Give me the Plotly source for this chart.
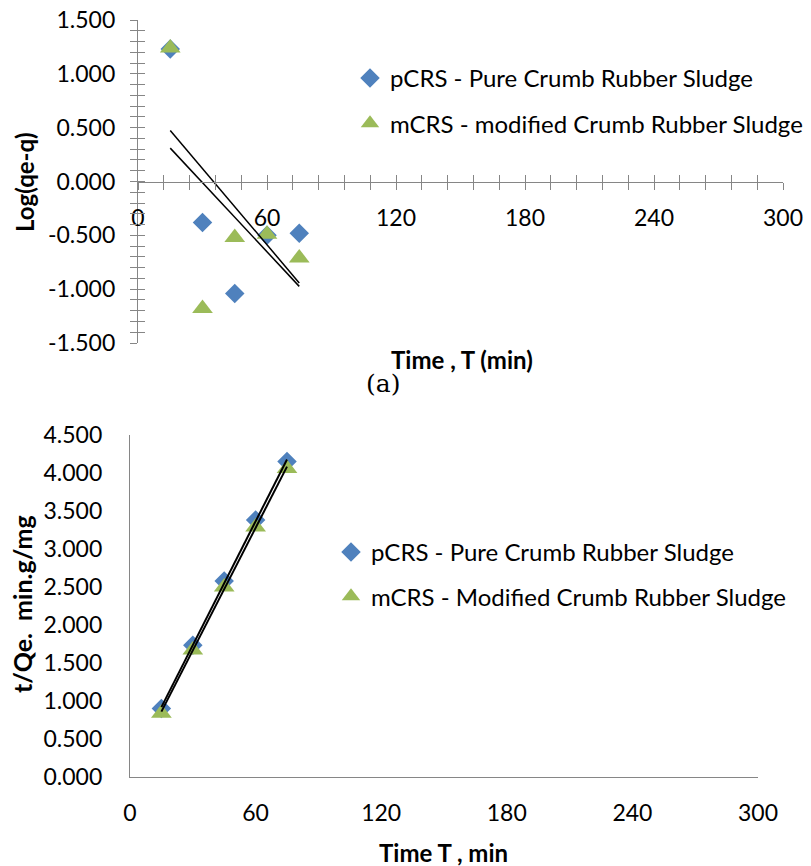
import numpy as np
import plotly.graph_objects as go

# ---------------- data ----------------
time_min = [15, 30, 45, 60, 75]

# (a) pseudo-first-order: Log(qe-q)
log_pcrs = [1.23, -0.38, -1.04, -0.50, -0.48]
log_mcrs = [1.24, -1.18, -0.52, -0.49, -0.71]

# (b) pseudo-second-order: t/Qe
tq_pcrs = [0.90, 1.735, 2.58, 3.38, 4.15]
tq_mcrs = [0.84, 1.67, 2.50, 3.29, 4.06]

names_top = ["pCRS - Pure Crumb Rubber Sludge", "mCRS - modified Crumb Rubber Sludge"]
names_bot = ["pCRS - Pure Crumb Rubber Sludge", "mCRS - Modified Crumb Rubber Sludge"]

x_ticks = [0, 60, 120, 180, 240, 300]
y_ticks_top = [-1.5, -1.0, -0.5, 0.0, 0.5, 1.0, 1.5]
y_ticks_bot = [0.0, 0.5, 1.0, 1.5, 2.0, 2.5, 3.0, 3.5, 4.0, 4.5]
y_text_top = ["-1.500", "-1.000", "-0.500", "0.000", "0.500", "1.000", "1.500"]
y_text_bot = ["0.000", "0.500", "1.000", "1.500", "2.000", "2.500", "3.000", "3.500", "4.000", "4.500"]

W, H = 811, 866
BLUE = "#4F81BD"
GREEN = "#9BBB59"
GRAY = "#868686"
FONT = "Lato"


def px_x(p):
    return p / W


def px_y(p):
    return 1 - p / H


def trend(x, y):
    k, b = np.polyfit(x, y, 1)
    xs = [min(x), max(x)]
    return xs, [k * v + b for v in xs]


fig = go.Figure()

# ---------- top chart ----------
for vals, name, color, sym, size, grp in [
    (log_pcrs, names_top[0], BLUE, "diamond", 15, "a"),
    (log_mcrs, names_top[1], GREEN, "triangle-up", 18, "b"),
]:
    fig.add_trace(go.Scatter(
        x=time_min, y=vals, mode="markers", name=name,
        marker=dict(symbol=sym, size=size, color=color, line=dict(width=0)),
        xaxis="x", yaxis="y", legend="legend", legendgroup=grp,
    ))
for vals in (log_pcrs, log_mcrs):
    tx, ty = trend(time_min, vals)
    fig.add_trace(go.Scatter(
        x=tx, y=ty, mode="lines", line=dict(color="black", width=1.5),
        showlegend=False, xaxis="x", yaxis="y", hoverinfo="skip",
    ))
# invisible trace to carry the overlay (tick-crossing) axes
fig.add_trace(go.Scatter(x=[None], y=[None], xaxis="x3", yaxis="y3",
                         showlegend=False, hoverinfo="skip"))

# ---------- bottom chart ----------
for vals, name, color, sym, size, grp in [
    (tq_pcrs, names_bot[0], BLUE, "diamond", 15, "c"),
    (tq_mcrs, names_bot[1], GREEN, "triangle-up", 18, "d"),
]:
    fig.add_trace(go.Scatter(
        x=time_min, y=vals, mode="markers", name=name,
        marker=dict(symbol=sym, size=size, color=color, line=dict(width=0)),
        xaxis="x2", yaxis="y2", legend="legend2", legendgroup=grp,
    ))
for vals in (tq_pcrs, tq_mcrs):
    tx, ty = trend(time_min, vals)
    fig.add_trace(go.Scatter(
        x=tx, y=ty, mode="lines", line=dict(color="black", width=2),
        showlegend=False, xaxis="x2", yaxis="y2", hoverinfo="skip",
    ))

# ---------- geometry ----------
top_xdom = [px_x(138), px_x(783)]
top_ydom = [px_y(343), px_y(20)]
top_yrange = [-1.5, 1.5]
zero_pos = top_ydom[0] + (top_ydom[1] - top_ydom[0]) * (0 - top_yrange[0]) / (top_yrange[1] - top_yrange[0])

bot_xdom = [px_x(130), px_x(758)]
bot_ydom = [px_y(777), px_y(435)]

tickfont = dict(family=FONT, size=23, color="black")
legfont = dict(family=FONT, size=24, color="black")
titlefont = dict(family=FONT, size=24, color="black")

common_x = dict(range=[0, 300], tickvals=x_ticks, showgrid=False, zeroline=False,
                tickfont=tickfont, linecolor=GRAY, linewidth=1.3, fixedrange=True,
                automargin=False)


def ann(text, x, y, font, angle=0):
    return dict(text=text, x=px_x(x), y=px_y(y), xref="paper", yref="paper",
                xanchor="center", yanchor="middle", textangle=angle,
                showarrow=False, font=font)


fig.update_layout(
    width=W, height=H,
    margin=dict(l=0, r=0, t=0, b=0, autoexpand=False),
    paper_bgcolor="white", plot_bgcolor="rgba(0,0,0,0)",
    showlegend=True,
    xaxis=dict(
        **common_x, domain=top_xdom, anchor="free", position=zero_pos,
        showline=True, ticks="outside", ticklen=7, tickcolor=GRAY, tickwidth=1.3,
        minor=dict(ticks="outside", tick0=0, dtick=12, ticklen=7, tickcolor=GRAY, tickwidth=1.3),
        ticklabelstandoff=9,
    ),
    xaxis3=dict(
        range=[0, 300], domain=top_xdom, overlaying="x", anchor="free", position=zero_pos,
        showgrid=False, zeroline=False, showline=False, showticklabels=False,
        tickvals=x_ticks, ticks="inside", ticklen=7, tickcolor=GRAY, tickwidth=1.3,
        minor=dict(ticks="inside", tick0=0, dtick=12, ticklen=7, tickcolor=GRAY, tickwidth=1.3),
        automargin=False,
    ),
    yaxis=dict(
        range=top_yrange, domain=top_ydom, anchor="x",
        tickvals=y_ticks_top, ticktext=y_text_top,
        showgrid=False, zeroline=False, showline=True,
        linecolor=GRAY, linewidth=1.3, tickfont=tickfont,
        ticks="outside", ticklen=7, tickcolor=GRAY, tickwidth=1.3,
        minor=dict(ticks="outside", tick0=0, dtick=0.1, ticklen=7, tickcolor=GRAY, tickwidth=1.3),
        ticklabelstandoff=10, fixedrange=True, automargin=False,
    ),
    yaxis3=dict(
        range=top_yrange, domain=top_ydom, overlaying="y", anchor="x3", side="left",
        tickvals=y_ticks_top, showgrid=False, zeroline=False, showline=False,
        showticklabels=False, ticks="inside", ticklen=7, tickcolor=GRAY, tickwidth=1.3,
        minor=dict(ticks="inside", tick0=0, dtick=0.1, ticklen=7, tickcolor=GRAY, tickwidth=1.3),
        automargin=False,
    ),
    xaxis2=dict(
        **common_x, domain=bot_xdom, anchor="y2", showline=True, ticks="",
        ticklabelstandoff=15,
    ),
    yaxis2=dict(
        range=[0, 4.5], domain=bot_ydom, anchor="x2",
        tickvals=y_ticks_bot, ticktext=y_text_bot,
        showgrid=False, zeroline=False, showline=True,
        linecolor=GRAY, linewidth=1.3, tickfont=tickfont, ticks="",
        ticklabelstandoff=22, fixedrange=True, automargin=False,
    ),
    legend=dict(
        x=px_x(350), y=px_y(56), xanchor="left", yanchor="top",
        font=legfont, bgcolor="rgba(0,0,0,0)", tracegroupgap=11, itemclick=False,
    ),
    legend2=dict(
        x=px_x(331), y=px_y(530), xanchor="left", yanchor="top",
        font=legfont, bgcolor="rgba(0,0,0,0)", tracegroupgap=10, itemclick=False,
    ),
    annotations=[
        ann("<b>Log(qe-q)</b>", 24, 182, titlefont, -90),
        ann("<b>Time , T (min)</b>", 462, 359, titlefont),
        ann("(a)", 383, 384, dict(family="DejaVu Serif", size=25, color="black")),
        ann("<b>t/Qe.\u00a0 min.g/mg</b>", 22, 604, dict(family=FONT, size=25, color="black"), -90),
        ann("<b>Time T , min</b>", 443, 852, titlefont),
    ],
)

fig.write_html("out.html", post_script="document.body.style.margin='0';",
               config={"displayModeBar": False})
